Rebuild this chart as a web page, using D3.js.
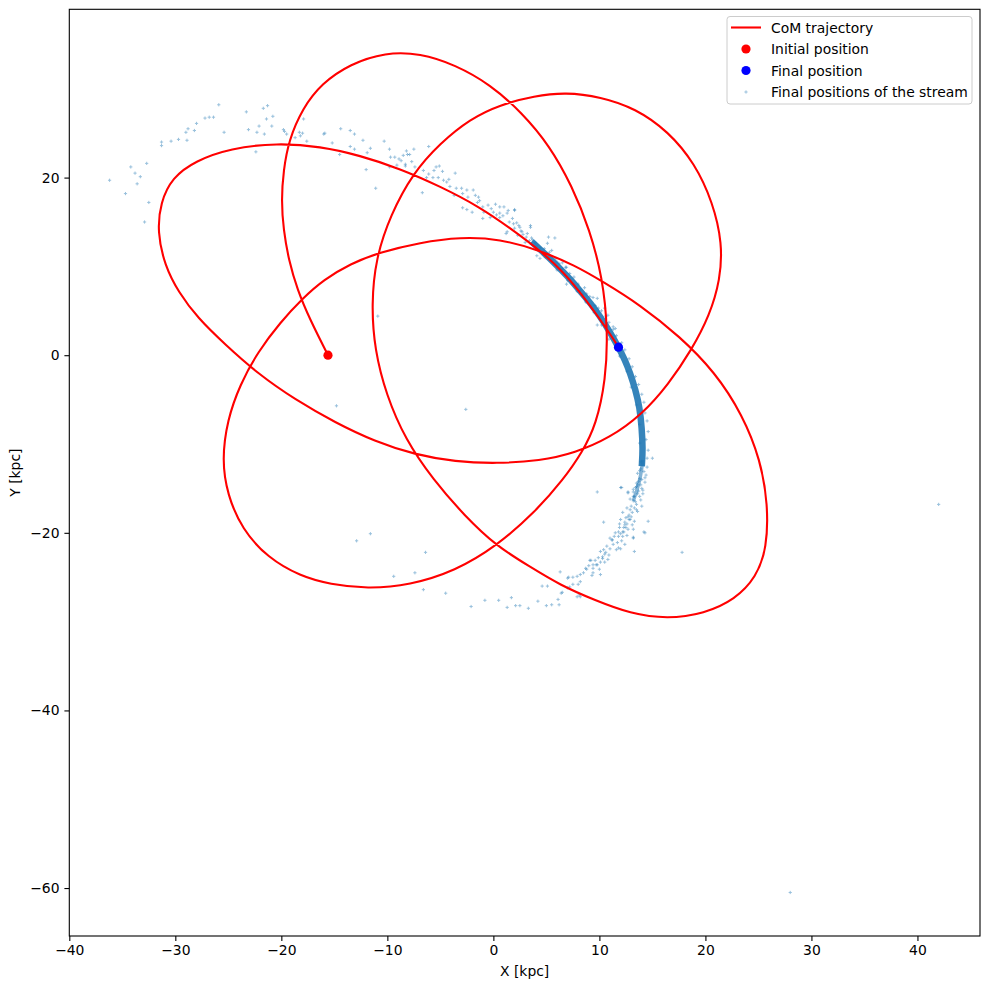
<!DOCTYPE html>
<html>
  <head>
    <meta charset="utf-8" />
    <script src="https://d3js.org/d3.v7.min.js"></script>
    <title>CoM trajectory and stream</title>
    <style>
      body { margin: 0; background: white; }
      text { font-family: 'DejaVu Sans', sans-serif; }
    </style>
  </head>

  <body>
    <div id="chart"></div>
  </body>

  <script>
    // CoM trajectory in the X-Y plane [kpc] in time order
    var trajectory = [
      [-15.6,0.0],[-17.3,4.0],[-18.5,7.4],[-19.3,10.7],[-19.8,14.1],[-20.0,17.5],[-19.8,20.8],[-19.3,24.2],
      [-18.0,27.8],[-16.2,30.6],[-13.5,32.8],[-10.2,34.1],[-6.9,34.0],[-3.6,32.7],[-0.3,30.5],[2.7,27.3],
      [5.3,23.6],[7.4,19.1],[9.1,14.1],[10.3,8.7],[10.8,2.8],[10.6,-2.8],[9.7,-7.8],[8.4,-10.9],[6.6,-14.0],
      [3.9,-17.7],[0.3,-21.5],[-3.6,-24.3],[-7.9,-25.9],[-11.9,-26.3],[-15.4,-25.8],[-18.2,-24.9],[-21.3,-22.8],
      [-23.7,-19.6],[-25.1,-15.7],[-25.6,-11.8],[-25.1,-7.3],[-23.9,-3.3],[-22.2,0.4],[-20.1,3.7],[-18.0,6.4],
      [-16.0,8.5],[-13.5,10.3],[-10.7,11.6],[-6.9,12.7],[-3.1,13.3],[0.6,13.1],[4.4,11.8],[7.7,10.1],[10.3,8.3],
      [13.8,5.7],[17.6,2.1],[20.9,-1.9],[23.5,-6.7],[25.2,-11.8],[25.9,-16.8],[25.8,-21.7],[24.8,-25.0],
      [22.8,-27.5],[19.9,-29.1],[16.4,-29.7],[12.9,-29.1],[9.6,-27.6],[6.3,-25.9],[3.3,-23.7],[0.3,-21.5],
      [-2.7,-18.1],[-5.7,-14.0],[-8.3,-9.5],[-10.1,-4.5],[-11.2,0.6],[-11.5,5.7],[-11.1,10.9],[-9.7,15.8],
      [-7.6,20.5],[-5.0,23.9],[-2.2,26.6],[0.6,28.2],[3.9,29.2],[6.8,29.6],[10.1,29.1],[13.4,27.8],[16.5,25.2],
      [19.0,21.6],[20.7,17.2],[21.6,12.6],[21.4,8.5],[20.4,4.5],[18.7,0.6],[16.5,-3.3],[14.0,-6.7],[11.0,-9.3],
      [7.7,-11.0],[4.4,-11.9],[0.3,-12.2],[-3.6,-12.0],[-7.4,-11.2],[-11.2,-9.7],[-14.9,-7.6],[-18.7,-5.0],
      [-22.2,-2.1],[-25.3,1.2],[-27.9,4.2],[-29.7,7.1],[-31.0,10.1],[-31.7,13.9],[-31.4,17.2],[-30.3,20.0],
      [-28.1,21.9],[-24.8,23.3],[-20.4,23.9],[-16.3,23.5],[-12.6,22.5],[-8.8,21.0],[-5.0,19.0],[-1.3,16.7],
      [1.6,14.3],[4.4,11.8],[6.6,9.4],[8.7,6.3],[10.8,2.8],[11.8,0.9]
    ];

    var initialPosition = [-15.6, 0.0];
    var finalPosition = [11.8, 0.9];

    // densest part of the stream, where the particles merge into a band
    var streamCore = [
      [3.6,12.8],[4.6,11.7],[5.5,10.7],[6.4,9.6],[7.3,8.5],[8.2,7.2],[9.2,5.8],[10.1,4.3],[11.0,2.6],[11.8,0.9],
      [12.4,-0.5],[12.9,-2.0],[13.4,-3.9],[13.8,-5.9],[14.0,-8.2],[14.1,-10.6],[14.0,-12.5]
    ];
    var streamCoreTail = [[14.1,-11.8],[13.9,-13.6],[13.6,-15.0],[13.2,-16.4]];

    // individual stream particles
    var streamPoints = [
      // leading tail, upper left
      [-36.2,19.7],[-34.7,18.2],[-34.2,21.2],[-33.8,20.5],[-33.3,20.1],[-33.6,19.3],[-32.7,21.6],[-32.5,17.2],
      [-32.9,15.0],[-31.3,24.0],[-31.3,23.6],[-30.4,24.1],[-29.7,24.3],[-28.9,24.2],[-29.0,25.1],[-28.8,25.5],
      [-28.2,25.3],[-28.0,26.1],[-27.2,26.7],[-26.8,26.8],[-26.4,26.8],[-25.9,28.2],[-25.4,25.1],[-23.3,27.4],
      [-23.1,25.4],[-22.4,22.9],[-22.3,25.1],[-22.1,25.8],[-21.7,27.8],[-21.3,28.1],[-21.4,26.6],[-21.6,24.9],
      [-20.9,25.8],[-20.8,26.9],[-19.8,25.4],[-19.7,25.2],[-19.5,24.9],[-18.7,24.5],[-18.3,25.1],[-18.0,25.0],
      [-18.2,24.7],[-17.9,26.6],[-17.6,24.1],[-15.9,25.0],[-16.0,24.9],[-15.2,23.9],[-14.4,25.5],[-14.5,22.6],
      [-13.5,25.3],[-13.1,24.9],[-13.5,23.5],[-13.1,23.2],[-12.3,24.2],[-11.9,22.8],[-12.0,20.9],[-11.6,23.3],
      [-11.1,18.8],[-10.3,24.1],[-9.8,23.2],[-9.7,22.3],[-9.3,22.3],[-8.9,22.1],[-9.8,21.2],[-8.7,21.9],
      [-8.2,23.0],[-8.5,22.5],[-8.1,22.6],[-7.9,22.6],[-7.5,23.2],[-7.7,21.8],[-8.3,21.5],[-8.3,21.3],
      [-9.1,21.4],[-7.4,21.2],[-6.6,20.8],[-6.1,23.5],[-6.7,18.3],[-6.3,20.0],[-6.1,20.4],[-5.7,20.0],
      [-5.6,20.8],[-5.4,21.2],[-5.1,21.3],[-4.8,20.7],[-5.2,20.0],[-4.7,19.7],[-4.4,19.5],[-4.2,19.8],
      [-3.6,20.5],[-4.1,19.0],[-3.5,18.8],[-3.7,18.0],[-3.0,18.8],[-2.9,18.2],[-2.5,18.6],[-1.9,18.6],
      [-2.4,17.8],[-2.9,16.6],[-2.5,16.4],[-2.0,16.1],[-1.7,18.0],[-1.4,17.8],[-1.3,17.4],[-1.5,17.2],
      [-1.0,16.7],[-0.9,16.1],[-0.5,16.9],[-0.2,16.5],[0.0,16.1],[0.3,15.8],[0.2,17.0],[-1.0,15.4],
      [-0.3,15.5],[0.6,16.7],[1.0,16.7],[1.4,16.3],[2.0,16.4],[0.6,16.0],[0.9,15.7],[1.3,16.0],[1.8,15.4],
      [0.6,15.5],[2.2,14.9],[1.2,13.7],[2.0,14.3],[2.5,14.4],[2.7,13.9],[2.3,13.5],[3.2,13.7],[3.6,13.2],
      [3.9,12.7],[3.0,12.7],[3.5,14.4],[5.2,13.3],[5.8,13.2],[4.4,12.1],[5.1,12.6],[4.7,11.3],[5.2,11.0],
      [5.5,10.7],[6.0,10.5],[6.5,10.4],[6.9,9.9],[4.4,10.9],[1.3,13.9],[2.0,16.3],[3.5,14.6],[4.1,11.2],
      [5.5,11.8],[6.5,9.7],[6.9,8.0],[8.2,7.3],[8.4,6.8],[9.8,6.4],[9.9,5.3],[10.5,5.3],[9.8,3.4],[11.3,3.2],
      [11.5,3.0],[10.8,4.5],[9.1,6.6],
      [1.9,14.8],[2.6,14.0],[3.1,13.3],[3.4,12.9],[4.0,12.2],[2.8,13.6],[3.7,13.0],[2.4,14.6],[1.5,15.0],[4.2,12.4],
      // along the band
      [4.0,12.6],[4.8,12.0],[5.3,11.6],[4.9,11.0],[5.9,10.9],[6.2,10.3],[6.8,9.9],[6.0,9.6],[7.2,9.2],
      [7.6,8.8],[7.0,8.4],[8.0,8.0],[8.6,7.6],[7.9,7.2],[8.8,6.9],[9.4,6.5],[8.7,6.0],[9.6,5.6],[10.2,5.0],
      [9.5,4.8],[10.6,4.4],[10.9,3.7],[10.2,3.4],[11.3,2.9],[11.6,2.2],[10.9,1.8],[12.1,1.4],[12.4,0.6],
      [11.9,-0.1],[12.8,-0.4],[13.1,-1.3],[12.6,-1.8],[13.4,-2.4],[13.7,-3.3],[13.0,-3.6],[14.0,-4.4],
      [14.2,-5.3],[13.5,-5.6],[14.3,-6.5],[14.5,-7.4],[13.8,-7.8],[14.6,-8.6],[14.4,-9.5],[13.8,-9.9],
      [14.6,-10.7],[14.5,-11.6],[13.9,-12.0],[14.5,-12.6],[14.4,-13.5],[13.8,-13.9],[14.3,-14.3],[13.6,-14.6],
      [14.1,-15.2],[13.3,-15.9],[13.9,-16.3],[13.0,-17.0],
      [13.9,-12.8],[14.2,-13.1],[13.6,-13.3],[14.0,-14.0],[13.7,-14.2],[13.4,-14.9],[13.9,-14.6],[13.6,-15.6],
      [13.2,-16.4],[13.5,-16.8],[12.9,-17.4],[13.3,-17.2],[12.8,-18.0],[12.4,-18.8],[12.6,-19.0],[11.8,-19.9],
      [12.0,-20.1],
      [13.8,-13.0],[14.3,-13.8],[13.5,-14.4],[14.0,-15.0],[13.7,-15.3],[13.2,-15.1],[13.8,-15.9],[13.4,-16.5],
      [12.9,-16.2],[13.6,-17.6],[13.0,-18.2],[12.5,-18.3],[13.1,-19.1],[12.3,-19.4],[11.9,-19.0],[12.6,-20.3],
      [11.4,-20.4],[12.4,-21.3],[11.3,-21.3],[10.9,-22.5],[9.9,-22.8],[10.8,-23.0],[9.0,-23.7],[8.5,-24.5],
      // trailing tail, lower right
      [15.0,-11.6],[12.0,-14.9],[9.8,-15.4],[14.1,-15.6],[12.7,-15.4],[13.5,-14.8],[13.2,-15.9],[14.0,-17.0],
      [13.5,-17.4],[12.6,-17.2],[13.1,-17.7],[12.7,-18.2],[12.2,-17.7],[12.9,-18.5],[13.3,-18.7],[14.6,-18.7],
      [12.4,-19.1],[12.0,-18.5],[10.4,-18.8],[11.9,-19.4],[12.7,-19.6],[12.2,-19.9],[11.5,-20.0],[11.8,-20.4],
      [11.0,-20.6],[12.2,-20.4],[13.2,-20.6],[14.3,-20.0],[11.2,-20.8],[11.7,-21.1],[10.7,-21.5],[11.0,-21.8],
      [12.0,-21.8],[13.3,-22.1],[10.4,-21.9],[10.1,-22.1],[10.6,-22.2],[10.3,-22.7],[9.6,-23.1],[9.2,-23.1],
      [10.1,-23.3],[9.8,-23.6],[9.4,-23.6],[8.8,-24.1],[9.4,-24.0],[10.0,-24.1],[8.2,-24.7],[9.3,-24.8],
      [10.1,-24.7],[7.5,-25.0],[7.9,-24.9],[7.0,-25.1],[7.5,-25.8],[8.0,-25.8],[8.2,-25.5],[6.5,-26.7],
      [7.0,-26.2],[7.9,-27.2],[8.2,-27.2],[6.3,-24.4],[6.4,-26.8],[7.1,-25.0],[7.2,-26.1],[8.1,-27.0],
      [8.7,-24.0],[9.4,-24.5],[9.1,-23.1],[9.7,-23.6],[10.3,-22.9],[10.5,-22.4],[10.5,-23.3],[11.6,-21.9],
      [11.8,-21.7],[11.2,-20.8],[12.1,-20.9],[12.3,-19.9],[12.5,-19.4],[12.8,-18.5],[13.2,-19.6],[13.2,-20.5],
      [14.2,-19.9],[12.1,-14.9],[12.7,-15.5],[13.2,-15.4],[17.8,-22.2],
      [4.6,-26.0],[5.1,-26.0],[6.1,-27.5],[6.2,-28.1],[5.5,-28.1],[5.0,-28.2],[4.2,-27.7],[3.3,-28.5],
      [2.5,-28.2],[2.1,-28.2],[1.7,-27.3],[1.3,-28.4],[0.5,-27.6],[-0.8,-27.6],[-2.1,-28.3],[-4.5,-26.8],
      [-6.6,-26.4],[-7.4,-24.5],[-9.4,-24.9],[-6.4,-22.2],[-11.6,-20.1],[-12.9,-20.9],
      // isolated particles
      [-2.6,-6.1],[-14.8,-5.7],[-10.9,4.4],[42.0,-16.8],[28.0,-60.5]
    ];

    var xTicks = [-40, -30, -20, -10, 0, 10, 20, 30, 40];
    var yTicks = [-60, -40, -20, 0, 20];
    var legendLabels = ['CoM trajectory', 'Initial position', 'Final position', 'Final positions of the stream'];

    var width = 989,
      height = 989;
    var plotLeft = 69.3,
      plotRight = 980,
      plotTop = 9.3,
      plotBottom = 936;

    var svg = d3
      .select('#chart')
      .append('svg')
      .attr('width', width)
      .attr('height', height);

    var x = d3.scaleLinear().domain([-40, 45.9]).range([plotLeft, plotRight]);
    var y = d3.scaleLinear().domain([-65.4, 38.95]).range([plotBottom, plotTop]);

    svg
      .append('clipPath')
      .attr('id', 'plot-clip')
      .append('rect')
      .attr('x', plotLeft)
      .attr('y', plotTop)
      .attr('width', plotRight - plotLeft)
      .attr('height', plotBottom - plotTop);

    var plot = svg.append('g').attr('clip-path', 'url(#plot-clip)');

    function plusPath(px, py, r) {
      return 'M' + (px - r) + ',' + py + 'H' + (px + r) + 'M' + px + ',' + (py - r) + 'V' + (py + r);
    }

    var smoothLine = d3
      .line()
      .x((d) => x(d[0]))
      .y((d) => y(d[1]))
      .curve(d3.curveBasis);

    // stream: dense band first, then the single particles
    plot
      .append('path')
      .datum(streamCore)
      .attr('fill', 'none')
      .attr('stroke', '#1f77b4')
      .attr('stroke-opacity', 0.9)
      .attr('stroke-width', 6.5)
      .attr('d', smoothLine);

    plot
      .append('path')
      .datum(streamCoreTail)
      .attr('fill', 'none')
      .attr('stroke', '#1f77b4')
      .attr('stroke-opacity', 0.55)
      .attr('stroke-width', 3.5)
      .attr('d', smoothLine);

    plot
      .append('g')
      .selectAll('path')
      .data(streamPoints)
      .join('path')
      .attr('d', (d) => plusPath(x(d[0]), y(d[1]), 1.6))
      .attr('stroke', '#1f77b4')
      .attr('stroke-width', 1)
      .attr('opacity', 0.45);

    // trajectory
    plot
      .append('path')
      .datum(trajectory)
      .attr('fill', 'none')
      .attr('stroke', '#ff0000')
      .attr('stroke-width', 2.1)
      .attr('stroke-linejoin', 'round')
      .attr('d', smoothLine);

    plot
      .append('circle')
      .attr('cx', x(initialPosition[0]))
      .attr('cy', y(initialPosition[1]))
      .attr('r', 4.6)
      .attr('fill', '#ff0000');

    plot
      .append('circle')
      .attr('cx', x(finalPosition[0]))
      .attr('cy', y(finalPosition[1]))
      .attr('r', 4.6)
      .attr('fill', '#0000ff');

    // axes
    var xAxis = svg
      .append('g')
      .attr('transform', 'translate(0,' + plotBottom + ')')
      .call(d3.axisBottom(x).tickValues(xTicks).tickSize(4.9).tickPadding(4.2));

    var yAxis = svg
      .append('g')
      .attr('transform', 'translate(' + plotLeft + ',0)')
      .call(d3.axisLeft(y).tickValues(yTicks).tickSize(4.9).tickPadding(4.9));

    [xAxis, yAxis].forEach(function (g) {
      g.select('.domain').remove();
      g.selectAll('line').attr('stroke', '#000').attr('stroke-width', 1.1);
      g.selectAll('text')
        .attr('fill', '#000')
        .style('font-family', "'DejaVu Sans', sans-serif")
        .style('font-size', '13.9px');
    });

    svg
      .append('rect')
      .attr('x', plotLeft)
      .attr('y', plotTop)
      .attr('width', plotRight - plotLeft)
      .attr('height', plotBottom - plotTop)
      .attr('fill', 'none')
      .attr('stroke', '#000')
      .attr('stroke-width', 1.1);

    svg
      .append('text')
      .attr('x', (plotLeft + plotRight) / 2)
      .attr('y', 976)
      .attr('text-anchor', 'middle')
      .style('font-size', '13.9px')
      .text('X [kpc]');

    svg
      .append('text')
      .attr('transform', 'translate(20,' + (plotTop + plotBottom) / 2 + ') rotate(-90)')
      .attr('text-anchor', 'middle')
      .style('font-size', '13.9px')
      .text('Y [kpc]');

    // legend
    var legend = svg.append('g').attr('transform', 'translate(727,16.5)');

    legend
      .append('rect')
      .attr('width', 245)
      .attr('height', 87.5)
      .attr('rx', 3)
      .attr('fill', 'white')
      .attr('fill-opacity', 0.8)
      .attr('stroke', '#cccccc')
      .attr('stroke-width', 1);

    var rowY = function (i) {
      return 11 + i * 21.5;
    };

    legend
      .append('line')
      .attr('x1', 4)
      .attr('x2', 34)
      .attr('y1', rowY(0))
      .attr('y2', rowY(0))
      .attr('stroke', '#ff0000')
      .attr('stroke-width', 2.1);

    legend.append('circle').attr('cx', 19).attr('cy', rowY(1)).attr('r', 4.6).attr('fill', '#ff0000');
    legend.append('circle').attr('cx', 19).attr('cy', rowY(2)).attr('r', 4.6).attr('fill', '#0000ff');
    legend
      .append('path')
      .attr('d', plusPath(19, rowY(3), 1.6))
      .attr('stroke', '#1f77b4')
      .attr('stroke-width', 1)
      .attr('opacity', 0.45);

    legend
      .selectAll('text.label')
      .data(legendLabels)
      .join('text')
      .attr('class', 'label')
      .attr('x', 44)
      .attr('y', (d, i) => rowY(i))
      .attr('dy', '0.36em')
      .style('font-size', '13.9px')
      .text((d) => d);
  </script>
</html>
